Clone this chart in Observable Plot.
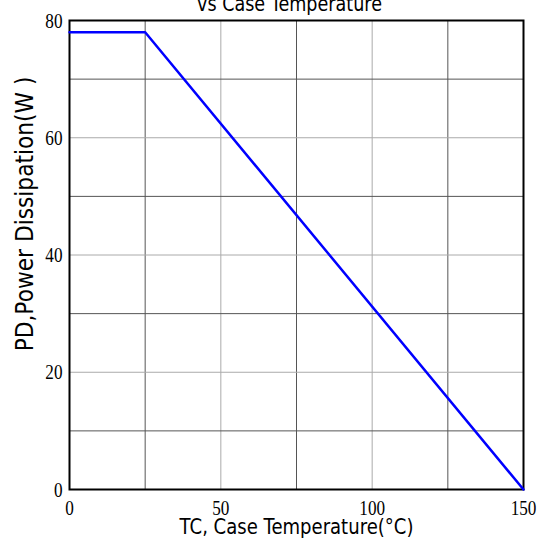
<!DOCTYPE html>
<html><head><meta charset="utf-8">
<script src="https://cdn.jsdelivr.net/npm/d3@7"></script>
<script src="https://cdn.jsdelivr.net/npm/@observablehq/plot@0.6"></script>
<style>
body{margin:0;background:#fff;}
svg{overflow:hidden;}
</style>
</head><body><div id="chart"></div>
<script>
const tempC = [0, 25, 150];
const powerW = [78, 78, 0];
const xTicks = [0, 50, 100, 150];
const yTicks = [0, 20, 40, 60, 80];
const xGridDark = [25, 75, 125];
const xGridLight = [50, 100];
const yGridDark = [10, 30, 50, 70];
const yGridLight = [20, 40, 60];
const title = "vs Case Temperature";
const xLabel = "TC, Case Temperature(°C)";
const yLabel = "PD,Power Dissipation(W )";

const data = tempC.map((t, i) => ({t, p: powerW[i]}));
const sans = "DejaVu Sans, sans-serif";

const chart = Plot.plot({
  width: 548, height: 546,
  marginTop: 20, marginBottom: 57, marginLeft: 69, marginRight: 25,
  style: {background: "#fff", overflow: "hidden", color: "#000"},
  x: {domain: [0, 150], label: null},
  y: {domain: [0, 80], label: null},
  marks: [
    Plot.ruleX(xGridLight, {stroke: "#aaaaaa", strokeWidth: 1}),
    Plot.ruleX(xGridDark, {stroke: "#555555", strokeWidth: 1}),
    Plot.ruleY(yGridLight, {stroke: "#aaaaaa", strokeWidth: 1}),
    Plot.ruleY(yGridDark, {stroke: "#555555", strokeWidth: 1}),
    Plot.frame({stroke: "#000", strokeWidth: 2}),
    Plot.axisX({ticks: xTicks, tickSize: 0, tickPadding: 10, fontSize: 22, fontFamily: "Liberation Serif, serif", label: null}),
    Plot.axisY({ticks: yTicks, tickSize: 0, tickPadding: 7, fontSize: 22, fontFamily: "Liberation Serif, serif", label: null}),
    Plot.line(data, {x: "t", y: "p", stroke: "#0000ff", strokeWidth: 2.5}),
    Plot.text([xLabel], {frameAnchor: "bottom", dy: 44, fontSize: 22, fontFamily: sans, fill: "#000", lineAnchor: "bottom"}),
    Plot.text([yLabel], {frameAnchor: "left", textAnchor: "middle", dx: -44, dy: -41, rotate: -90, fontSize: 24, fontFamily: sans, fill: "#000"}),
    Plot.text([title], {frameAnchor: "top", dy: -10, dx: -7, fontSize: 21, fontFamily: sans, fill: "#000", lineAnchor: "bottom"})
  ]
});
document.getElementById("chart").appendChild(chart);

// condense tick labels horizontally (narrow serif numerals as in reference)
d3.select(chart).selectAll('g[aria-label="x-axis tick label"] text, g[aria-label="y-axis tick label"] text')
  .attr("transform", function() { return (this.getAttribute("transform") || "") + " scale(0.78,1)"; });
// condense the sans labels to the reference widths
const fit = {[xLabel]: 234, [yLabel]: 275, [title]: 185};
d3.select(chart).selectAll('g[aria-label="text"] text').each(function() {
  const w = fit[this.textContent];
  if (w) {
    const k = w / this.getComputedTextLength();
    this.setAttribute("transform", (this.getAttribute("transform") || "") + ` scale(${k},1)`);
  }
});
</script>
</body></html>
